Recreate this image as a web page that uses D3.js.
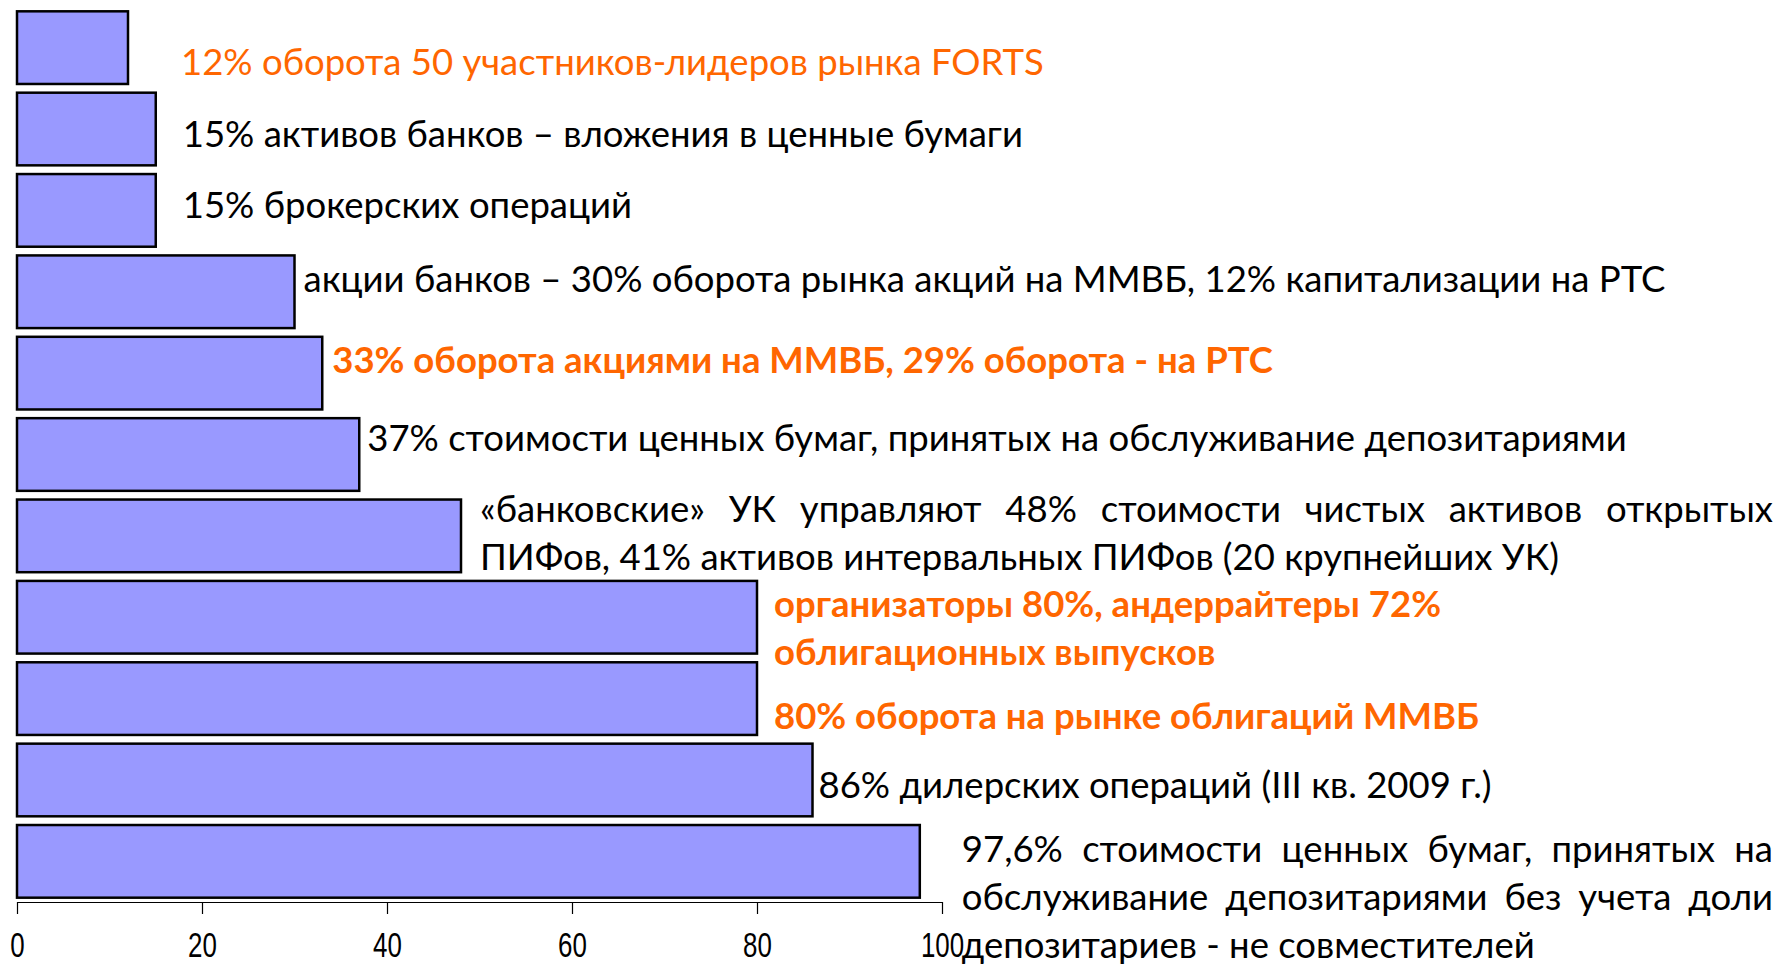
<!DOCTYPE html>
<html>
<head>
<meta charset="utf-8">
<script src="https://cdn.jsdelivr.net/npm/d3@7/dist/d3.min.js"></script>
<style>
  body { margin: 0; background: #fff; }
  svg { display: block; }
</style>
</head>
<body>
<svg id="chart" width="1780" height="965"></svg>
<script>
// data
const values = [ 12, 15, 15, 30, 33, 37, 48, 80, 80, 86, 97.6 ];
const labels = [
  [ "12% оборота 50 участников-лидеров рынка FORTS" ],
  [ "15% активов банков – вложения в ценные бумаги" ],
  [ "15% брокерских операций" ],
  [ "акции банков – 30% оборота рынка акций на ММВБ, 12% капитализации на РТС" ],
  [ "33% оборота акциями на ММВБ, 29% оборота - на РТС" ],
  [ "37% стоимости ценных бумаг, принятых на обслуживание депозитариями" ],
  [ "«банковские» УК управляют 48% стоимости чистых активов открытых",
    "ПИФов, 41% активов интервальных ПИФов (20 крупнейших УК)" ],
  [ "организаторы 80%, андеррайтеры 72%", "облигационных выпусков" ],
  [ "80% оборота на рынке облигаций ММВБ" ],
  [ "86% дилерских операций (III кв. 2009 г.)" ],
  [ "97,6% стоимости ценных бумаг, принятых на",
    "обслуживание депозитариями без учета доли",
    "депозитариев - не совместителей" ],
];
const xTicks = [ 0, 20, 40, 60, 80, 100 ];

// label styling / placement (layout only)
const labelKind = [ "accent", "plain", "plain", "plain", "accentBold", "plain",
  "justify", "accentBold", "accentBold", "plain", "justify" ];
const labelDx = [ 53, 27, 27, 9, 10, 8, 19, 17, 17, 6, 42 ];
const labelDy = [ 27, 18, 8, 0, 0, -4, -14, 0, 30, 18, 1 ];

const TEXT_RIGHT = 1773;
const LINE_H = 47.7;
const FONT = "Lato, 'Open Sans', sans-serif";
const FONT_SIZE = 36.5;
const ORANGE = "#ff6600";

const svg = d3.select( "#chart" );

const xScale = d3.scaleLinear()
  .domain( [ 0, 100 ] )
  .range( [ 17, 942 ] );

const yScale = d3.scaleBand()
  .domain( d3.range( values.length ) )
  .range( [ 7, 902 ] )
  .paddingInner( 0.107 )
  .paddingOuter( 0.053 );

// bars
svg.append( "g" )
  .selectAll( "rect" )
  .data( values )
  .join( "rect" )
  .attr( "x", xScale( 0 ) )
  .attr( "y", ( d, i ) => yScale( i ) )
  .attr( "width", d => xScale( d ) - xScale( 0 ) )
  .attr( "height", yScale.bandwidth() )
  .attr( "fill", "#9999ff" )
  .attr( "stroke", "#000" )
  .attr( "stroke-width", 2.5 );

// axis
const xAxis = d3.axisBottom( xScale )
  .tickValues( xTicks )
  .tickSize( 12 )
  .tickSizeOuter( 0 )
  .tickFormat( d3.format( "d" ) );

const axisG = svg.append( "g" )
  .attr( "transform", `translate(0,${yScale.range()[1]})` )
  .call( xAxis );

axisG.select( ".domain" ).attr( "stroke", "#000" ).attr( "stroke-width", 1.2 );
axisG.selectAll( ".tick line" ).attr( "stroke", "#000" ).attr( "stroke-width", 1.2 );
axisG.selectAll( ".tick text" )
  .attr( "y", 0 )
  .attr( "dy", 0 )
  .attr( "transform", "translate(0,55) scale(0.72,1)" )
  .attr( "fill", "#000" )
  .style( "font-family", "'Liberation Sans', Arial, sans-serif" )
  .style( "font-size", "36px" );

// labels
const labelG = svg.append( "g" )
  .style( "font-family", FONT )
  .style( "font-size", `${FONT_SIZE}px` );

const measure = labelG.append( "text" ).attr( "visibility", "hidden" );
const wordWidth = w => measure.text( w ).node().getComputedTextLength();

labels.forEach( ( lines, i ) => {
  const kind = labelKind[i];
  const x0 = xScale( values[i] ) + labelDx[i];
  const y0 = yScale( i ) + yScale.bandwidth() / 2 + labelDy[i];

  const text = labelG.append( "text" )
    .attr( "fill", kind.startsWith( "accent" ) ? ORANGE : "#000" )
    .attr( "font-weight", kind === "accentBold" ? 700 : 400 );

  lines.forEach( ( line, j ) => {
    const y = y0 + j * LINE_H;
    if ( kind === "justify" && j < lines.length - 1 ) {
      const words = line.split( " " );
      const widths = words.map( wordWidth );
      const gap = ( TEXT_RIGHT - x0 - d3.sum( widths ) ) / ( words.length - 1 );
      let cx = x0;
      words.forEach( ( w, k ) => {
        text.append( "tspan" ).attr( "x", cx ).attr( "y", y ).text( w );
        cx += widths[k] + gap;
      } );
    } else {
      text.append( "tspan" ).attr( "x", x0 ).attr( "y", y ).text( line );
    }
  } );
} );

measure.remove();
</script>
</body>
</html>
